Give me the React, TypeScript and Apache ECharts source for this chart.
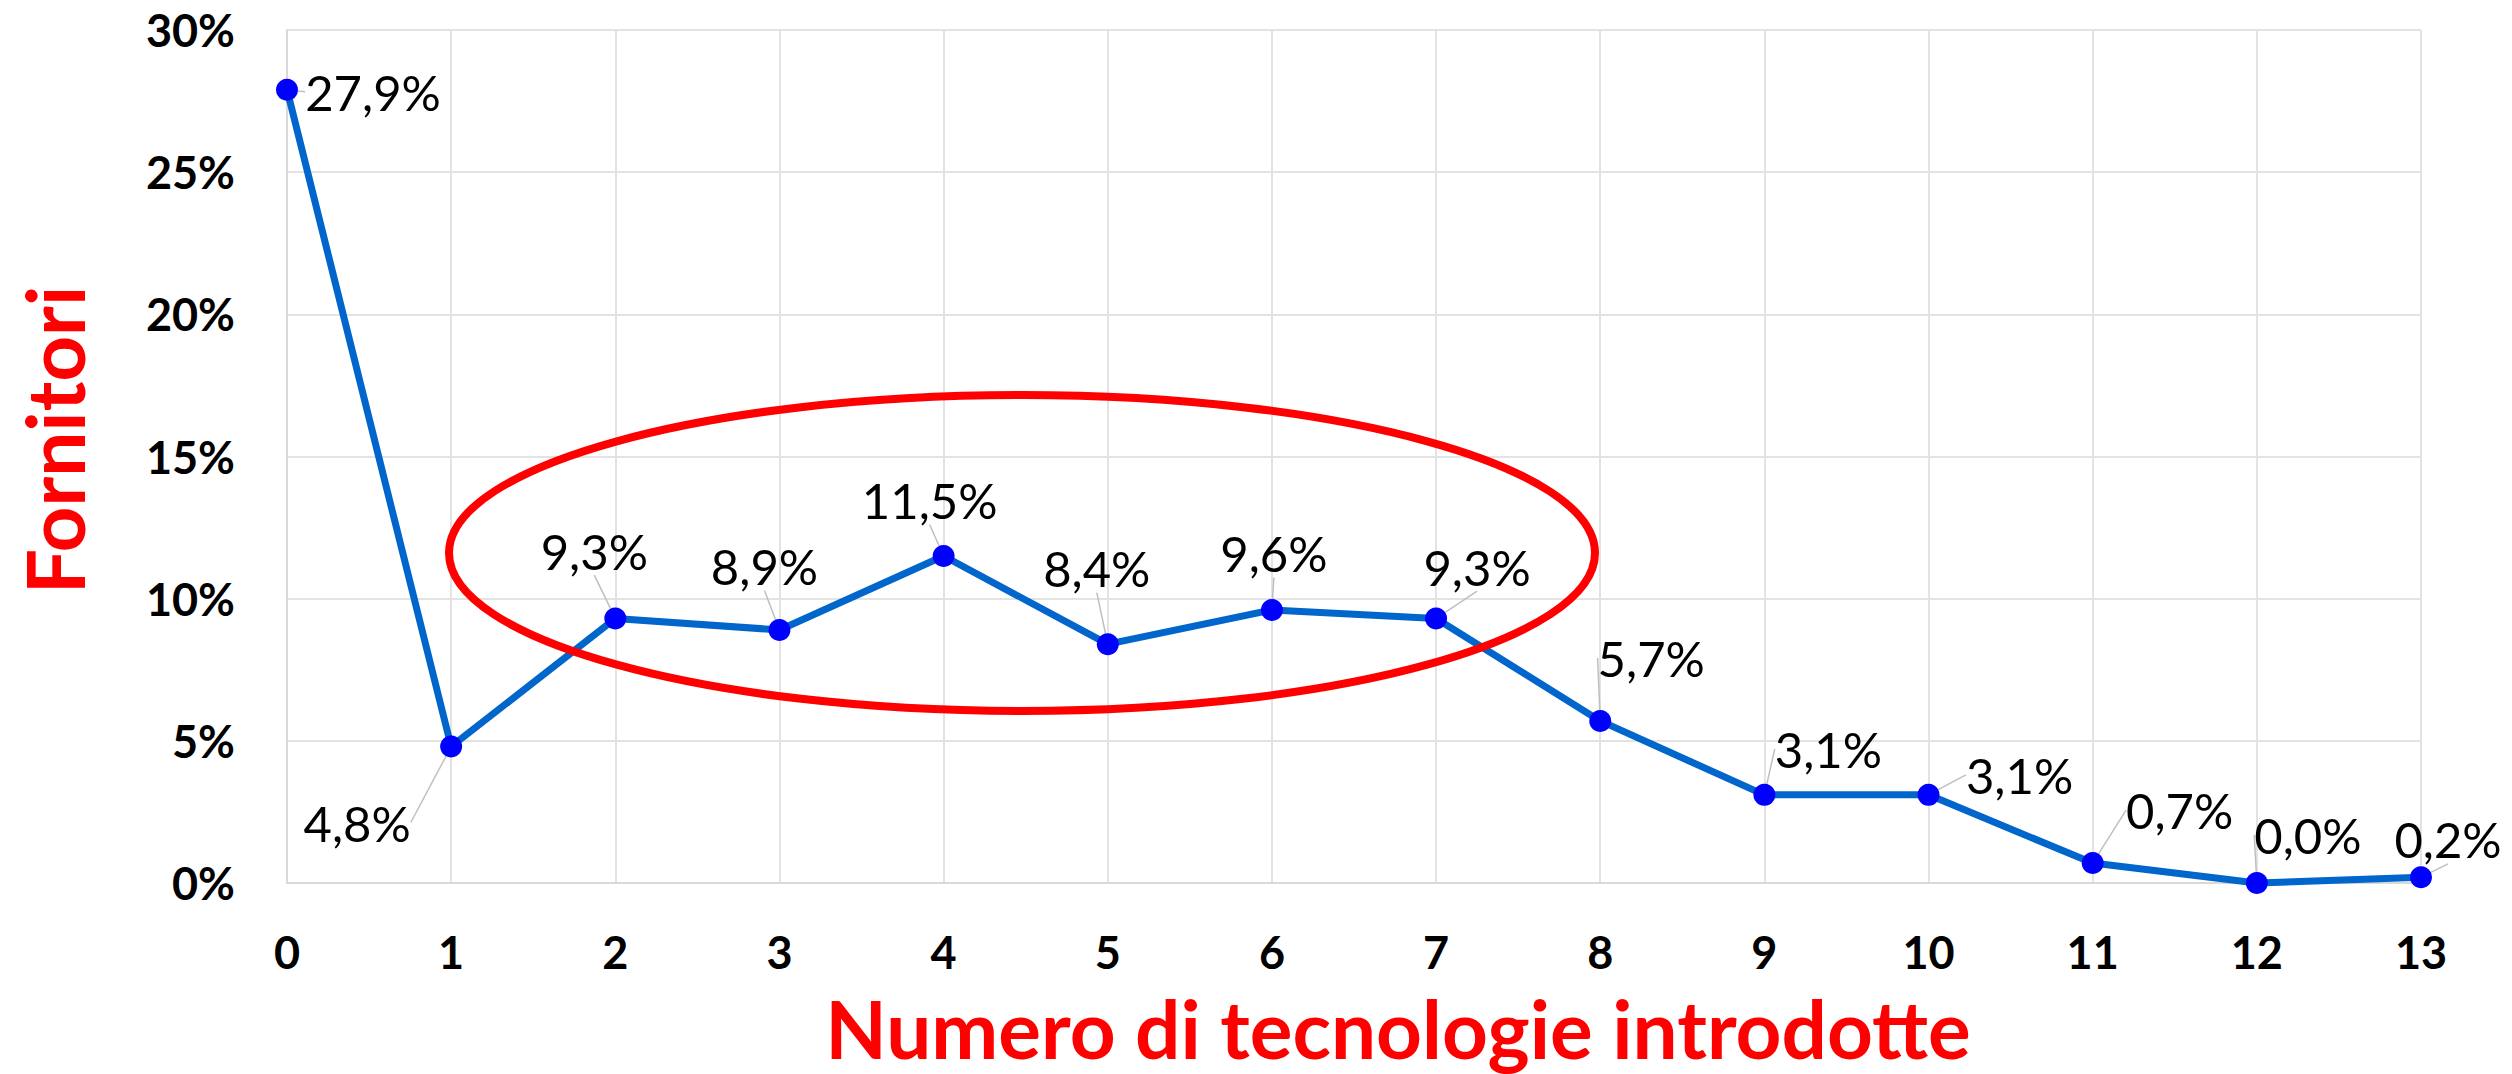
import React, { useEffect, useRef } from "react";
import * as echarts from "echarts";

const categories = ["0", "1", "2", "3", "4", "5", "6", "7", "8", "9", "10", "11", "12", "13"];
const values = [27.9, 4.8, 9.3, 8.9, 11.5, 8.4, 9.6, 9.3, 5.7, 3.1, 3.1, 0.7, 0.0, 0.2];
const yMin = 0;
const yMax = 30;
const yInterval = 5;
const xTitle = "Numero di tecnologie introdotte";
const yTitle = "Fornitori";

// label offsets (px) from each point centre, Excel-like placement
const labelOffsets: [number, number][] = [
  [86, 2], [-94, 76], [-21, -68], [-15, -64], [-14, -56], [-11, -76], [2, -57],
  [41, -52], [51, -63], [64, -46], [91, -20], [87, -53], [51, -48], [27, -38],
];

const FONT = "Lato, 'Open Sans', sans-serif";

export default function App() {
  const ref = useRef<HTMLDivElement>(null);
  useEffect(() => {
    if (!ref.current) return;
    const chart = echarts.init(ref.current, null, { renderer: "svg" });
    chart.setOption({
      animation: false,
      backgroundColor: "#ffffff",
      grid: { left: 287, right: 91, top: 30, bottom: 191, containLabel: false },
      xAxis: {
        type: "category",
        data: categories,
        boundaryGap: false,
        axisLine: { show: true, lineStyle: { color: "#D9D9D9", width: 2 } },
        axisTick: { show: false },
        splitLine: { show: true, lineStyle: { color: "#E3E3E3", width: 2 } },
        axisLabel: {
          margin: 46,
          color: "#000",
          fontFamily: FONT,
          fontWeight: "bold",
          fontSize: 45,
        },
      },
      yAxis: {
        type: "value",
        min: yMin,
        max: yMax,
        interval: yInterval,
        axisLine: { show: true, lineStyle: { color: "#D9D9D9", width: 2 } },
        axisTick: { show: false },
        splitLine: { show: true, lineStyle: { color: "#E3E3E3", width: 2 } },
        axisLabel: {
          margin: 52,
          color: "#000",
          fontFamily: FONT,
          fontWeight: "bold",
          fontSize: 45,
          formatter: "{value}%",
        },
      },
      series: [
        {
          type: "line",
          data: values,
          lineStyle: { color: "#0066CC", width: 7 },
          itemStyle: { color: "#0000FF" },
          symbol: "circle",
          symbolSize: 22,
          z: 3,
          label: {
            show: true,
            position: "inside",
            color: "#000",
            fontFamily: FONT,
            fontSize: 49,
            formatter: (p: any) => p.value.toFixed(1).replace(".", ",") + "%",
          },
          labelLine: {
            show: true,
            lineStyle: { color: "#BFBFBF", width: 1.5 },
          },
          labelLayout: (params: any) => {
            const off = labelOffsets[params.dataIndex] || [0, -40];
            const r = params.rect;
            return {
              x: r.x + r.width / 2 + off[0],
              y: r.y + r.height / 2 + off[1],
              align: "center",
              verticalAlign: "middle",
            };
          },
        },
      ],
      graphic: [
        {
          type: "ellipse",
          shape: { cx: 1022, cy: 553, rx: 573, ry: 158 },
          style: { fill: "none", stroke: "#FF0000", lineWidth: 8 },
          z: 10,
        },
        {
          type: "text",
          x: 1398,
          y: 1028,
          style: {
            text: xTitle,
            align: "center",
            verticalAlign: "middle",
            fill: "#FF0000",
            font: `bold 80px ${FONT}`,
          },
        },
        {
          type: "text",
          x: 54,
          y: 440,
          rotation: Math.PI / 2,
          style: {
            text: yTitle,
            align: "center",
            verticalAlign: "middle",
            fill: "#FF0000",
            font: `bold 80px ${FONT}`,
          },
        },
      ],
    });
    return () => chart.dispose();
  }, []);
  return (
    <div
      ref={ref}
      style={{ position: "fixed", left: 0, top: 0, width: 2512, height: 1074 }}
    />
  );
}
